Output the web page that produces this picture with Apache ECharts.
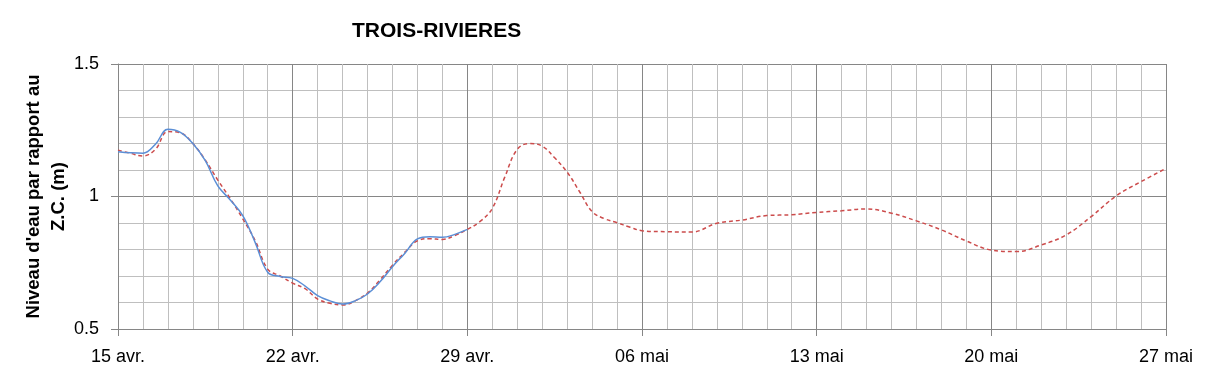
<!DOCTYPE html>
<html>
<head>
<meta charset="utf-8">
<script src="https://cdn.jsdelivr.net/npm/echarts@6/dist/echarts.min.js"></script>
<style>
  html, body { margin: 0; padding: 0; background: #fff; }
  #chart { width: 1209px; height: 378px; }
</style>
</head>
<body>
<div id="chart"></div>
<script>
// jours du 15 avr. (jour 0) au 27 mai (jour 42)
var days = [
  "15 avr.", "16 avr.", "17 avr.", "18 avr.", "19 avr.", "20 avr.", "21 avr.",
  "22 avr.", "23 avr.", "24 avr.", "25 avr.", "26 avr.", "27 avr.", "28 avr.",
  "29 avr.", "30 avr.", "01 mai", "02 mai", "03 mai", "04 mai", "05 mai",
  "06 mai", "07 mai", "08 mai", "09 mai", "10 mai", "11 mai", "12 mai",
  "13 mai", "14 mai", "15 mai", "16 mai", "17 mai", "18 mai", "19 mai",
  "20 mai", "21 mai", "22 mai", "23 mai", "24 mai", "25 mai", "26 mai",
  "27 mai"
];

// niveau observé (trait plein bleu) : [jour, niveau]
var observed = [
  [0, 1.169], [0.5, 1.165], [1, 1.163], [1.5, 1.197], [2, 1.254], [2.5, 1.242],
  [3, 1.20], [3.5, 1.135], [4, 1.04], [4.5, 0.987], [5, 0.928], [5.5, 0.826],
  [6, 0.714], [6.5, 0.698], [7, 0.691], [7.5, 0.662], [8, 0.626], [8.5, 0.606],
  [9, 0.594], [9.5, 0.606], [10, 0.632], [10.5, 0.678], [11, 0.735], [11.5, 0.786],
  [12, 0.84], [12.5, 0.848], [13, 0.846], [13.5, 0.857], [14, 0.876]
];

// niveau prévu (pointillé rouge) : [jour, niveau]
var forecast = [
  [0, 1.175], [0.5, 1.163], [1, 1.153], [1.5, 1.178], [2, 1.245], [2.5, 1.240],
  [3, 1.20], [3.5, 1.137], [4, 1.062], [4.5, 0.992], [5, 0.916], [5.5, 0.833],
  [6, 0.726], [6.5, 0.70], [7, 0.673], [7.5, 0.652], [8, 0.613], [8.5, 0.597],
  [9, 0.591], [9.5, 0.606], [10, 0.636], [10.5, 0.685], [11, 0.741], [11.5, 0.79],
  [12, 0.833], [12.5, 0.841], [13, 0.838], [13.5, 0.853], [14, 0.876], [14.5, 0.905],
  [15, 0.955], [15.5, 1.073], [16, 1.178], [16.5, 1.20], [17, 1.19], [17.5, 1.146],
  [18, 1.092], [18.5, 1.018], [19, 0.943], [19.5, 0.916], [20, 0.901], [20.5, 0.885],
  [21, 0.871], [22, 0.867], [23, 0.866], [24, 0.899], [25, 0.911], [26, 0.928],
  [27, 0.931], [28, 0.94], [29, 0.946], [30, 0.953], [31, 0.937], [32, 0.908],
  [33, 0.874], [34, 0.832], [35, 0.798], [36, 0.792], [37, 0.817], [38, 0.855],
  [39, 0.924], [40, 1.002], [41, 1.056], [42, 1.106]
];

var yTickLabels = [0.5, 1, 1.5];

var dark = "#868686";
var light = "#bfbfbf";
var font = "Liberation Sans";

var chart = echarts.init(document.getElementById("chart"));

chart.setOption({
  animation: false,
  title: {
    text: "TROIS-RIVIERES",
    left: 347,
    top: 16,
    textStyle: {
      fontFamily: font,
      fontWeight: "bold",
      fontSize: 21,
      color: "#000"
    }
  },
  grid: {
    left: 118,
    right: 43,
    top: 64,
    bottom: 49,
    containLabel: false,
    outerBoundsMode: "none"
  },
  xAxis: [
    {
      // quadrillage journalier, une ligne foncée par semaine
      type: "value",
      min: 0,
      max: 42,
      interval: 1,
      axisLine: { show: true, lineStyle: { color: dark } },
      axisTick: { show: false },
      axisLabel: { show: false },
      splitLine: {
        show: true,
        lineStyle: { color: [dark, light, light, light, light, light, light], width: 1 }
      }
    },
    {
      type: "value",
      position: "bottom",
      min: 0,
      max: 42,
      interval: 7,
      axisLine: { show: false },
      axisTick: { show: true, length: 7, lineStyle: { color: dark } },
      axisLabel: {
        margin: 19,
        fontFamily: font,
        fontSize: 18,
        color: "#000",
        formatter: function (v) {
          return days[v];
        }
      },
      splitLine: { show: false }
    }
  ],
  yAxis: [
    {
      type: "value",
      min: 0.5,
      max: 1.5,
      interval: 0.1,
      axisLine: { show: false },
      axisTick: { show: false },
      axisLabel: { show: false },
      splitLine: {
        show: true,
        lineStyle: { color: [dark, light, light, light, light], width: 1 }
      }
    },
    {
      type: "value",
      position: "left",
      min: 0.5,
      max: 1.5,
      interval: 0.5,
      name: "Niveau d'eau par rapport au\nZ.C. (m)",
      nameLocation: "middle",
      nameGap: 47,
      nameMoveOverlap: false,
      nameTextStyle: {
        fontFamily: font,
        fontWeight: "bold",
        fontSize: 18.5,
        lineHeight: 25,
        color: "#000"
      },
      axisLine: { show: true, lineStyle: { color: dark } },
      axisTick: { show: true, length: 7, lineStyle: { color: dark } },
      axisLabel: {
        margin: 19,
        fontFamily: font,
        fontSize: 18,
        color: "#000",
        formatter: function (v) {
          return yTickLabels.indexOf(v) >= 0 ? String(v) : "";
        }
      },
      splitLine: { show: false }
    }
  ],
  series: [
    {
      name: "Prévu",
      type: "line",
      data: forecast,
      smooth: 0.4,
      symbol: "none",
      xAxisIndex: 0,
      yAxisIndex: 0,
      lineStyle: { color: "#cc4c4c", width: 1.5, type: [4, 3] }
    },
    {
      name: "Observé",
      type: "line",
      data: observed,
      smooth: 0.4,
      symbol: "none",
      xAxisIndex: 0,
      yAxisIndex: 0,
      lineStyle: { color: "#5b8fd6", width: 1.5 }
    }
  ]
});
</script>
</body>
</html>
